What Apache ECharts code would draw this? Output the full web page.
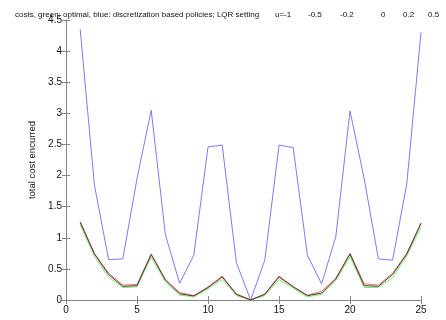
<!DOCTYPE html>
<html>
<head>
<meta charset="utf-8">
<script src="https://cdn.jsdelivr.net/npm/echarts@6/dist/echarts.min.js"></script>
<style>
  html, body { margin: 0; padding: 0; background: #fff; }
  #chart { width: 446px; height: 320px; }
</style>
</head>
<body>
<div id="chart"></div>
<script>
// horizon index
const steps = [1,2,3,4,5,6,7,8,9,10,11,12,13,14,15,16,17,18,19,20,21,22,23,24,25];

// cost curves
const blueCost  = [4.35,1.85,0.65,0.66,1.95,3.05,1.05,0.27,0.72,2.46,2.49,0.60,0.00,0.64,2.49,2.45,0.72,0.26,1.02,3.04,1.95,0.66,0.64,1.87,4.30];
const redCost   = [1.26,0.75,0.43,0.24,0.25,0.74,0.33,0.12,0.07,0.21,0.385,0.10,0.00,0.10,0.385,0.22,0.075,0.14,0.35,0.75,0.26,0.24,0.43,0.75,1.24];
const blackCost = [1.25,0.74,0.41,0.22,0.23,0.73,0.32,0.10,0.065,0.20,0.37,0.09,0.00,0.09,0.37,0.21,0.07,0.11,0.34,0.74,0.23,0.22,0.41,0.74,1.23];
const greenCost = [1.21,0.70,0.37,0.20,0.21,0.69,0.29,0.08,0.05,0.18,0.33,0.07,0.00,0.07,0.33,0.19,0.05,0.09,0.31,0.70,0.20,0.20,0.36,0.71,1.17];

// axis ticks
const xTicks = [0,5,10,15,20,25];
const yTicks = [0,0.5,1,1.5,2,2.5,3,3.5,4,4.5];

// control values listed in the heading
const uValues = ['u=-1','-0.5','-0.2','0','0.2','0.5'];
const uLeft   = [270,303,335,376,398,423];

const font = 'Liberation Sans, Arial, sans-serif';
const axisGray = '#858585';

function pairs(vals) { return steps.map((s, i) => [s, vals[i]]); }

const headStyle = { fontFamily: font, fontSize: 8, fontWeight: 'normal', color: '#111' };
const titles = [{
  text: 'costs, green: optimal, blue: discretization based policies; LQR setting',
  left: 10, top: 6, textStyle: headStyle
}].concat(uValues.map((u, i) => ({
  text: u, left: uLeft[i], top: 6, textStyle: headStyle
})));

const baseAxis = {
  axisLine: { show: true, lineStyle: { color: axisGray, width: 1 } },
  axisTick: { show: true, inside: true, length: 4, lineStyle: { color: axisGray } },
  splitLine: { show: false },
  axisLabel: { fontFamily: font, fontSize: 10, color: '#111' }
};

const chart = echarts.init(document.getElementById('chart'), null, { renderer: 'canvas' });
chart.setOption({
  animation: false,
  title: titles,
  grid: { left: 66, right: 25, top: 20, bottom: 20, containLabel: false },
  xAxis: [
    Object.assign({}, baseAxis, {
      type: 'value', position: 'bottom', min: xTicks[0], max: xTicks[xTicks.length - 1], interval: 5,
      axisLabel: Object.assign({}, baseAxis.axisLabel, { margin: 5 })
    }),
    Object.assign({}, baseAxis, {
      type: 'value', position: 'top', min: xTicks[0], max: xTicks[xTicks.length - 1], interval: 5,
      axisLabel: { show: false }
    })
  ],
  yAxis: [
    Object.assign({}, baseAxis, {
      type: 'value', position: 'left', min: yTicks[0], max: yTicks[yTicks.length - 1], interval: 0.5,
      name: 'total cost encurred', nameLocation: 'middle', nameGap: 19, nameRotate: 90,
      nameTextStyle: { fontFamily: font, fontSize: 9.5, color: '#111' },
      axisLabel: Object.assign({}, baseAxis.axisLabel, { margin: 4 })
    }),
    Object.assign({}, baseAxis, {
      type: 'value', position: 'right', min: yTicks[0], max: yTicks[yTicks.length - 1], interval: 0.5,
      axisLabel: { show: false }
    })
  ],
  series: [
    { type: 'line', data: pairs(blueCost),  symbol: 'none', lineStyle: { color: '#7b7bff', width: 1 }, z: 2 },
    { type: 'line', data: pairs(greenCost), symbol: 'none', lineStyle: { color: '#6cf56c', width: 1 }, z: 3 },
    { type: 'line', data: pairs(redCost),   symbol: 'none', lineStyle: { color: '#ff7070', width: 1 }, z: 4 },
    { type: 'line', data: pairs(blackCost), symbol: 'none', lineStyle: { color: '#553333', width: 1 }, z: 5 }
  ]
});
</script>
</body>
</html>
